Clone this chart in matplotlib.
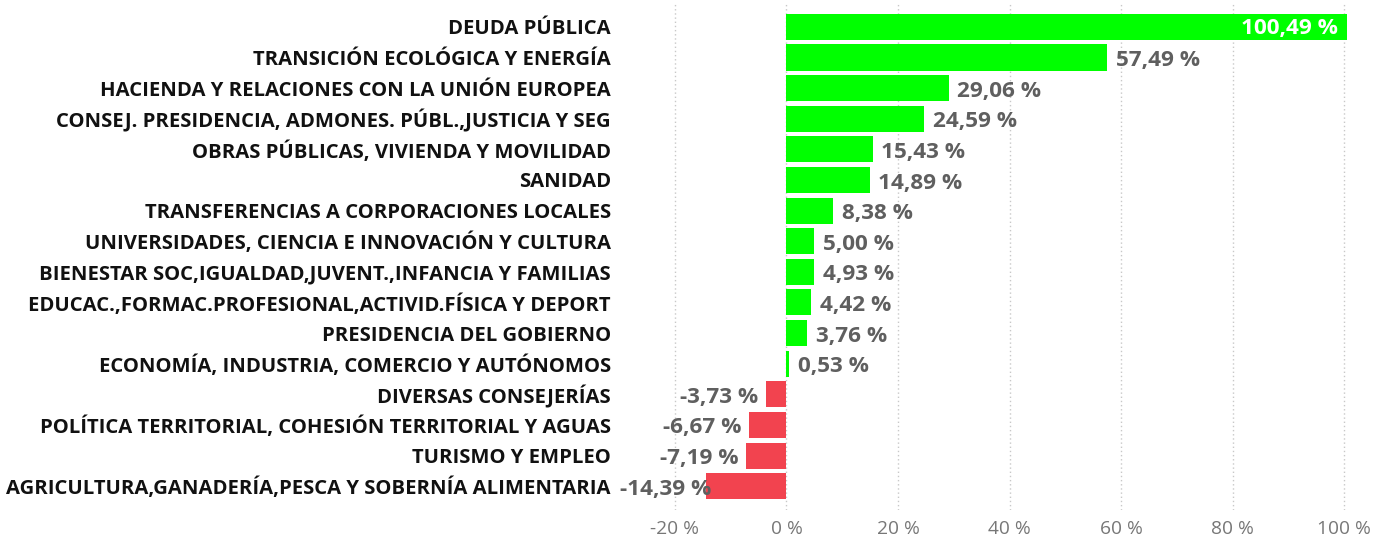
import matplotlib
matplotlib.use('Agg')
import matplotlib.pyplot as plt

plt.rcParams['font.family'] = ['Open Sans', 'DejaVu Sans']

# datos: variación por consejería (%)
categorias = ['DEUDA PÚBLICA',
              'TRANSICIÓN ECOLÓGICA Y ENERGÍA',
              'HACIENDA Y RELACIONES CON LA UNIÓN EUROPEA',
              'CONSEJ. PRESIDENCIA, ADMONES. PÚBL.,JUSTICIA Y SEG',
              'OBRAS PÚBLICAS, VIVIENDA Y MOVILIDAD',
              'SANIDAD',
              'TRANSFERENCIAS A CORPORACIONES LOCALES',
              'UNIVERSIDADES, CIENCIA E INNOVACIÓN Y CULTURA',
              'BIENESTAR SOC,IGUALDAD,JUVENT.,INFANCIA Y FAMILIAS',
              'EDUCAC.,FORMAC.PROFESIONAL,ACTIVID.FÍSICA Y DEPORT',
              'PRESIDENCIA DEL GOBIERNO',
              'ECONOMÍA, INDUSTRIA, COMERCIO Y AUTÓNOMOS',
              'DIVERSAS CONSEJERÍAS',
              'POLÍTICA TERRITORIAL, COHESIÓN TERRITORIAL Y AGUAS',
              'TURISMO Y EMPLEO',
              'AGRICULTURA,GANADERÍA,PESCA Y SOBERNÍA ALIMENTARIA']
valores = [100.49, 57.49, 29.06, 24.59, 15.43, 14.89, 8.38, 5.00, 4.93, 4.42,
           3.76, 0.53, -3.73, -6.67, -7.19, -14.39]
ticks = [-20, 0, 20, 40, 60, 80, 100]

fig = plt.figure(figsize=(13.73, 5.38), dpi=100)
ax = fig.add_axes([0.451, 0.052, 0.532, 0.9424])

pos = list(range(len(categorias)))
colores = ['#00FF00' if v >= 0 else '#F2434F' for v in valores]
ax.barh(pos, valores, height=0.85, color=colores, zorder=2)

xmin, xmax = -30, 101
ax.set_xlim(xmin, xmax)
ax.set_ylim(15.78, -0.78)

ax.set_xticks(ticks)
ax.set_xticklabels(['%d %%' % t for t in ticks], color='#777777', fontsize=13.8)
ax.tick_params(axis='x', length=0, pad=7)
ax.set_yticks(pos)
ax.set_yticklabels(categorias, fontsize=14.6, fontweight='bold', color='#111111')
ax.tick_params(axis='y', length=0, pad=6)

ax.grid(axis='x', color='#C8C8C8', linestyle=(0, (1, 2)), linewidth=1, zorder=0)
for s in ax.spines.values():
    s.set_visible(False)

ancho_etiqueta = 17.5  # ancho aprox. de una etiqueta negativa, en %
for i, v in enumerate(valores):
    txt = ('%.2f %%' % v).replace('.', ',')
    if i == 0:
        ax.text(v - 1.6, i + 0.05, txt, ha='right', va='center', color='white',
                fontsize=16.2, fontweight='bold', zorder=3)
    elif v >= 0:
        ax.text(v + 1.6, i + 0.1, txt, ha='left', va='center', color='#5F5F5F',
                fontsize=16.2, fontweight='bold', zorder=3)
    elif v - 1.4 - ancho_etiqueta < xmin:
        # no cabe: se pega al borde izquierdo, encima de la barra
        ax.text(xmin + 0.2, i + 0.1, txt, ha='left', va='center', color='#5F5F5F',
                fontsize=16.2, fontweight='bold', zorder=3)
    else:
        ax.text(v - 1.4, i + 0.1, txt, ha='right', va='center', color='#5F5F5F',
                fontsize=16.2, fontweight='bold', zorder=3)

plt.savefig('out.png', dpi=100)
